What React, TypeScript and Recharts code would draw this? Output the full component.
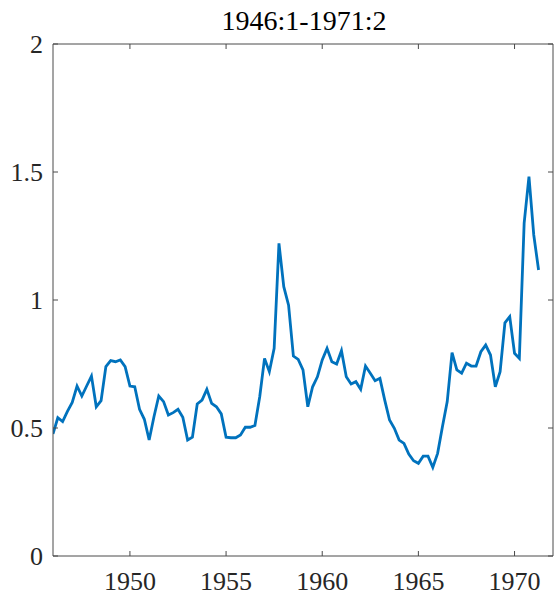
import { LineChart, Line, XAxis, YAxis } from 'recharts';

// quarterly values, 1946:1 .. 1971:2
const startYear = 1946;
const values = [
  0.477, 0.54, 0.525, 0.565,
  0.6, 0.664, 0.625, 0.664,
  0.703, 0.583, 0.607, 0.74,
  0.763, 0.759, 0.766, 0.74,
  0.664, 0.661, 0.573, 0.534,
  0.453, 0.544, 0.625, 0.603,
  0.551, 0.56, 0.573, 0.542,
  0.453, 0.464, 0.594, 0.609,
  0.651, 0.596, 0.583, 0.555,
  0.464, 0.462, 0.462, 0.473,
  0.503, 0.503, 0.51, 0.622,
  0.772, 0.72, 0.811, 1.221,
  1.052, 0.98, 0.781, 0.768,
  0.727, 0.583, 0.661, 0.7,
  0.766, 0.811, 0.759, 0.75,
  0.802, 0.7, 0.672, 0.681,
  0.651, 0.742, 0.714, 0.685,
  0.694, 0.609, 0.531, 0.499,
  0.453, 0.44, 0.398, 0.372,
  0.362, 0.39, 0.39, 0.346,
  0.401, 0.505, 0.603, 0.794,
  0.727, 0.714, 0.753, 0.742,
  0.742, 0.798, 0.824, 0.785,
  0.661, 0.72, 0.911, 0.935,
  0.792, 0.772, 1.3, 1.482,
  1.254, 1.117,
];
const xTicks = [1950, 1955, 1960, 1965, 1970];
const yTicks = [0, 0.5, 1, 1.5, 2];
const title = '1946:1-1971:2';

const data = values.map((v, i) => ({ t: startYear + i / 4, v }));

const axisColor = '#4a4a4a';
const serif = { fontFamily: "'Liberation Serif', serif" };

const BottomTick = ({ x, y, payload }: any) => (
  <g>
    <line x1={x} y1={y} x2={x} y2={y - 5} stroke={axisColor} />
    <text x={x} y={y + 34} textAnchor="middle" style={serif} fontSize={26} fill="#262626">
      {payload.value}
    </text>
  </g>
);

const TopTick = ({ x, y }: any) => (
  <line x1={x} y1={y} x2={x} y2={y + 5} stroke={axisColor} />
);

const LeftTick = ({ x, y, payload }: any) => (
  <g>
    <line x1={x} y1={y} x2={x + 5} y2={y} stroke={axisColor} />
    <text x={x - 10} y={y + 9} textAnchor="end" style={serif} fontSize={26} fill="#262626">
      {payload.value}
    </text>
  </g>
);

const RightTick = ({ x, y }: any) => (
  <line x1={x} y1={y} x2={x - 5} y2={y} stroke={axisColor} />
);

export default function App() {
  return (
    <div style={{ position: 'absolute', left: 0, top: 0, width: 554, height: 601 }}>
      <LineChart width={554} height={601} data={data} margin={{ top: 34, right: 0, bottom: 0, left: 0 }}>
        <XAxis
          dataKey="t"
          type="number"
          domain={[1946, 1972]}
          ticks={xTicks}
          allowDataOverflow
          height={45}
          tickSize={0}
          tickMargin={0}
          tickLine={false}
          stroke={axisColor}
          tick={BottomTick}
        />
        <XAxis
          xAxisId="top"
          orientation="top"
          dataKey="t"
          type="number"
          domain={[1946, 1972]}
          ticks={xTicks}
          allowDataOverflow
          height={10}
          tickSize={0}
          tickMargin={0}
          tickLine={false}
          stroke={axisColor}
          tick={TopTick}
        />
        <YAxis
          type="number"
          domain={[0, 2]}
          ticks={yTicks}
          allowDataOverflow
          width={53}
          tickSize={0}
          tickMargin={0}
          tickLine={false}
          stroke={axisColor}
          tick={LeftTick}
        />
        <YAxis
          yAxisId="r"
          orientation="right"
          type="number"
          domain={[0, 2]}
          ticks={yTicks}
          allowDataOverflow
          width={1}
          tickSize={0}
          tickMargin={0}
          tickLine={false}
          stroke={axisColor}
          tick={RightTick}
        />
        <Line
          type="linear"
          dataKey="v"
          stroke="#0072BD"
          strokeWidth={2.8}
          dot={false}
          isAnimationActive={false}
        />
      </LineChart>
      <svg width={554} height={601} style={{ position: 'absolute', left: 0, top: 0, pointerEvents: 'none' }}>
        <text x={304} y={30} textAnchor="middle" style={serif} fontSize={28} fill="#000">
          {title}
        </text>
      </svg>
    </div>
  );
}
